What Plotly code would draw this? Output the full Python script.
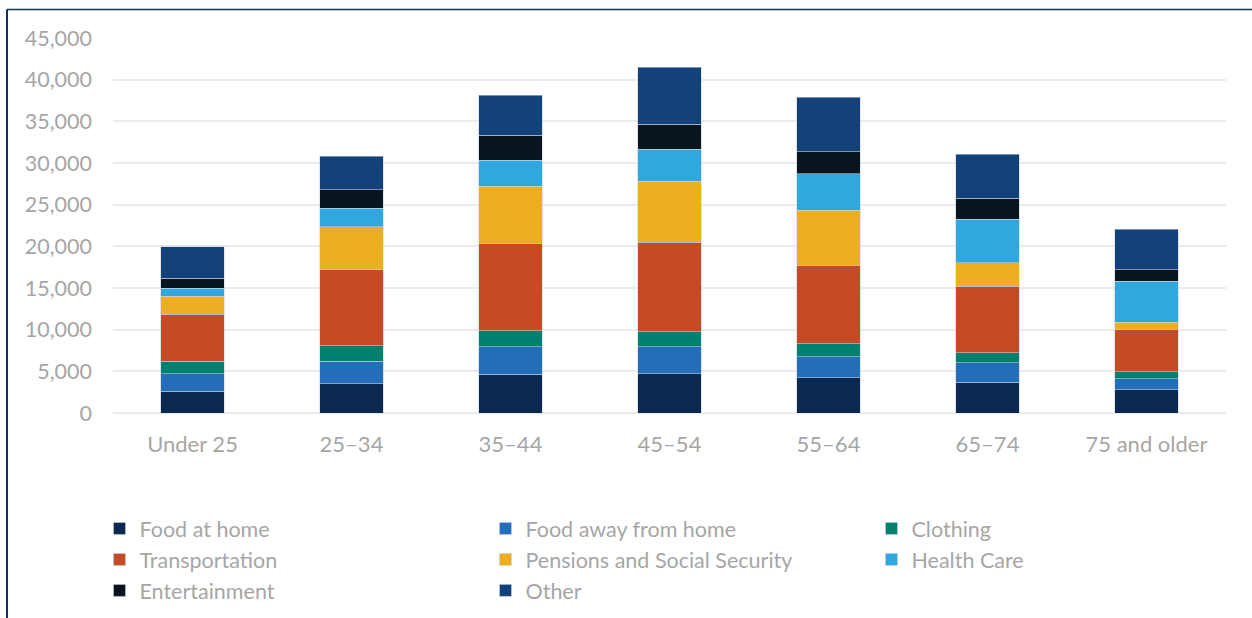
import plotly.graph_objects as go

categories = ["Under 25", "25–34", "35–44", "45–54", "55–64", "65–74", "75 and older"]

food_at_home = [2600, 3530, 4650, 4730, 4250, 3720, 2810]
food_away = [2100, 2680, 3320, 3240, 2520, 2330, 1320]
clothing = [1500, 1840, 1880, 1760, 1520, 1200, 840]
transportation = [5650, 9130, 10530, 10770, 9450, 7970, 5080]
pensions = [2150, 5160, 6810, 7330, 6570, 2840, 840]
health_care = [1000, 2210, 3160, 3800, 4400, 5170, 4930]
entertainment = [1200, 2230, 2970, 3010, 2640, 2520, 1400]
other = [3750, 4050, 4800, 6840, 6570, 5320, 4810]

series = [
    ("Food at home", food_at_home, "#0b2850"),
    ("Food away from home", food_away, "#246eb9"),
    ("Clothing", clothing, "#00806e"),
    ("Transportation", transportation, "#c54b25"),
    ("Pensions and Social Security", pensions, "#ecaf21"),
    ("Health Care", health_care, "#31a7df"),
    ("Entertainment", entertainment, "#0a141e"),
    ("Other", other, "#13417a"),
]

W, H = 1252, 618
ML, MR, MT, MB = 113, 26, 38, 205
PW, PH = W - ML - MR, H - MT - MB

def px_x(p):
    return (p - ML) / PW

def px_y(p):
    return (H - MB - p) / PH

fig = go.Figure()
for name, vals, col in series:
    fig.add_trace(go.Bar(
        x=categories, y=vals, name=name,
        marker=dict(color=col, line=dict(color="rgba(200,210,225,0.7)", width=0.8)),
    ))

border = "#12305c"
fig.add_shape(type="line", xref="paper", yref="paper",
              x0=px_x(7), x1=px_x(W), y0=px_y(9.5), y1=px_y(9.5),
              line=dict(color=border, width=1.5))
fig.add_shape(type="line", xref="paper", yref="paper",
              x0=px_x(7), x1=px_x(7), y0=px_y(9.5), y1=px_y(H + 5),
              line=dict(color=border, width=2))

gray = "#a6a6a6"
fig.update_layout(
    width=W, height=H,
    margin=dict(l=ML, r=MR, t=MT, b=MB, pad=0, autoexpand=False),
    barmode="stack",
    bargap=0.6,
    plot_bgcolor="white",
    paper_bgcolor="white",
    font=dict(family="Lato", color=gray, size=22),
    xaxis=dict(showgrid=False, showline=False, ticks="", tickfont=dict(size=22, color=gray),
               ticklabelstandoff=16, automargin=False),
    yaxis=dict(range=[0, 45000], dtick=5000, tickformat=",d", showline=False,
               gridcolor="#ebebeb", gridwidth=1.5, zeroline=True, zerolinecolor="#ebebeb",
               zerolinewidth=1.5, tickfont=dict(size=21.5, color=gray), ticklabelstandoff=20,
               automargin=False),
    legend=dict(orientation="h", x=px_x(99.5), xanchor="left", y=px_y(508), yanchor="top",
                entrywidth=341, entrywidthmode="pixels", traceorder="normal",
                font=dict(size=21.5, color=gray, family="Lato"), itemclick=False),
    showlegend=True,
)

fig.write_html("out.html")
